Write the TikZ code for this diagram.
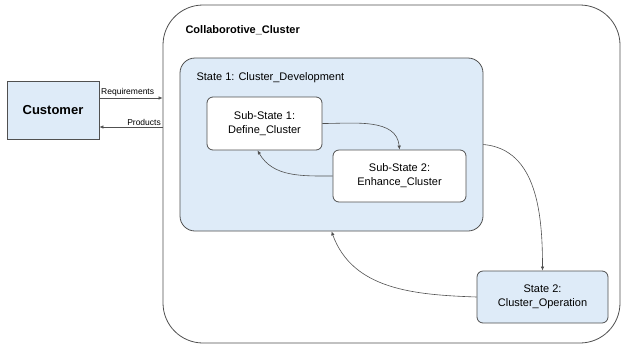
\documentclass[tikz,border=0pt]{standalone}
\usepackage{fontspec}
\setmainfont{Liberation Sans}
\usetikzlibrary{positioning,calc,arrows.meta}
\definecolor{paleblue}{RGB}{222,235,248}
\definecolor{edgegrey}{RGB}{80,80,80}
\newcommand*{\txt}[1]{\fontsize{11}{14}\selectfont #1}

\begin{document}
\begin{tikzpicture}[x=1pt,y=-1pt,
  statebox/.style={draw=edgegrey,line width=0.8pt,rounded corners=6pt,
                   align=center,inner sep=0pt,font=\txt{}},
  flow/.style={draw=edgegrey,line width=0.6pt,-{Latex[length=4pt,width=3.5pt]}}]
\useasboundingbox (0,0) rectangle (621,349);
% Outer cluster frame
\node [draw=edgegrey,line width=0.8pt,rounded corners=40pt,
       minimum width=457pt,minimum height=338pt] (Outer) at (391.5,174) {};
\node [anchor=base west,font=\fontsize{11}{13}\selectfont\bfseries] (OuterLabel)
      at (182,33) {Collaborotive\_Cluster};
% Customer on the left
\node [draw=edgegrey,line width=0.8pt,fill=paleblue,minimum width=92pt,
       minimum height=58pt,font=\fontsize{13}{15}\selectfont\bfseries] (Customer)
      at (53,110) {Customer};
% State 1 with its two sub-states
\node [statebox,fill=paleblue,rounded corners=15pt,minimum width=303pt,
       minimum height=173pt] (State1) at (331.5,144.5) {};
\node [anchor=base west,font=\txt{}] (State1Label) at (193,80)
      {State 1: Cluster\_Development};
\node [statebox,fill=white,minimum width=115pt,minimum height=53pt] (Sub1)
      at (264.5,123.5) {Sub-State 1:\\Define\_Cluster};
\node [statebox,fill=white,minimum width=133pt,minimum height=52pt] (Sub2)
      at (399.5,176) {Sub-State 2:\\Enhance\_Cluster};
% State 2
\node [statebox,fill=paleblue,minimum width=131pt,minimum height=52pt] (State2)
      at (542.5,297) {State 2:\\Cluster\_Operation};
% Requirements and products between customer and cluster
\coordinate (req) at ([yshift=12pt]Customer.east);
\coordinate (prod) at ([yshift=-17pt]Customer.east);
\draw [flow] (req) -- (req -| Outer.west)
      node [pos=0,anchor=south west,inner sep=1.5pt,
            font=\fontsize{8.5}{10}\selectfont] {Requirements};
\draw [flow] (prod -| Outer.west) -- (prod)
      node [pos=0,anchor=south east,inner sep=1.5pt,
            font=\fontsize{8.5}{10}\selectfont] {Products};
% Transitions
\draw [flow] (Sub1.east) to[out=0,in=95] (Sub2.north);
\draw [flow] (Sub2.west) to[out=180,in=-60] ([xshift=-7pt]Sub1.south);
\draw [flow] (State1.east) to[out=-5,in=90] (State2.north);
\draw [flow] (State2.west) to[out=178,in=-70] (State1.south);
\end{tikzpicture}
\end{document}
